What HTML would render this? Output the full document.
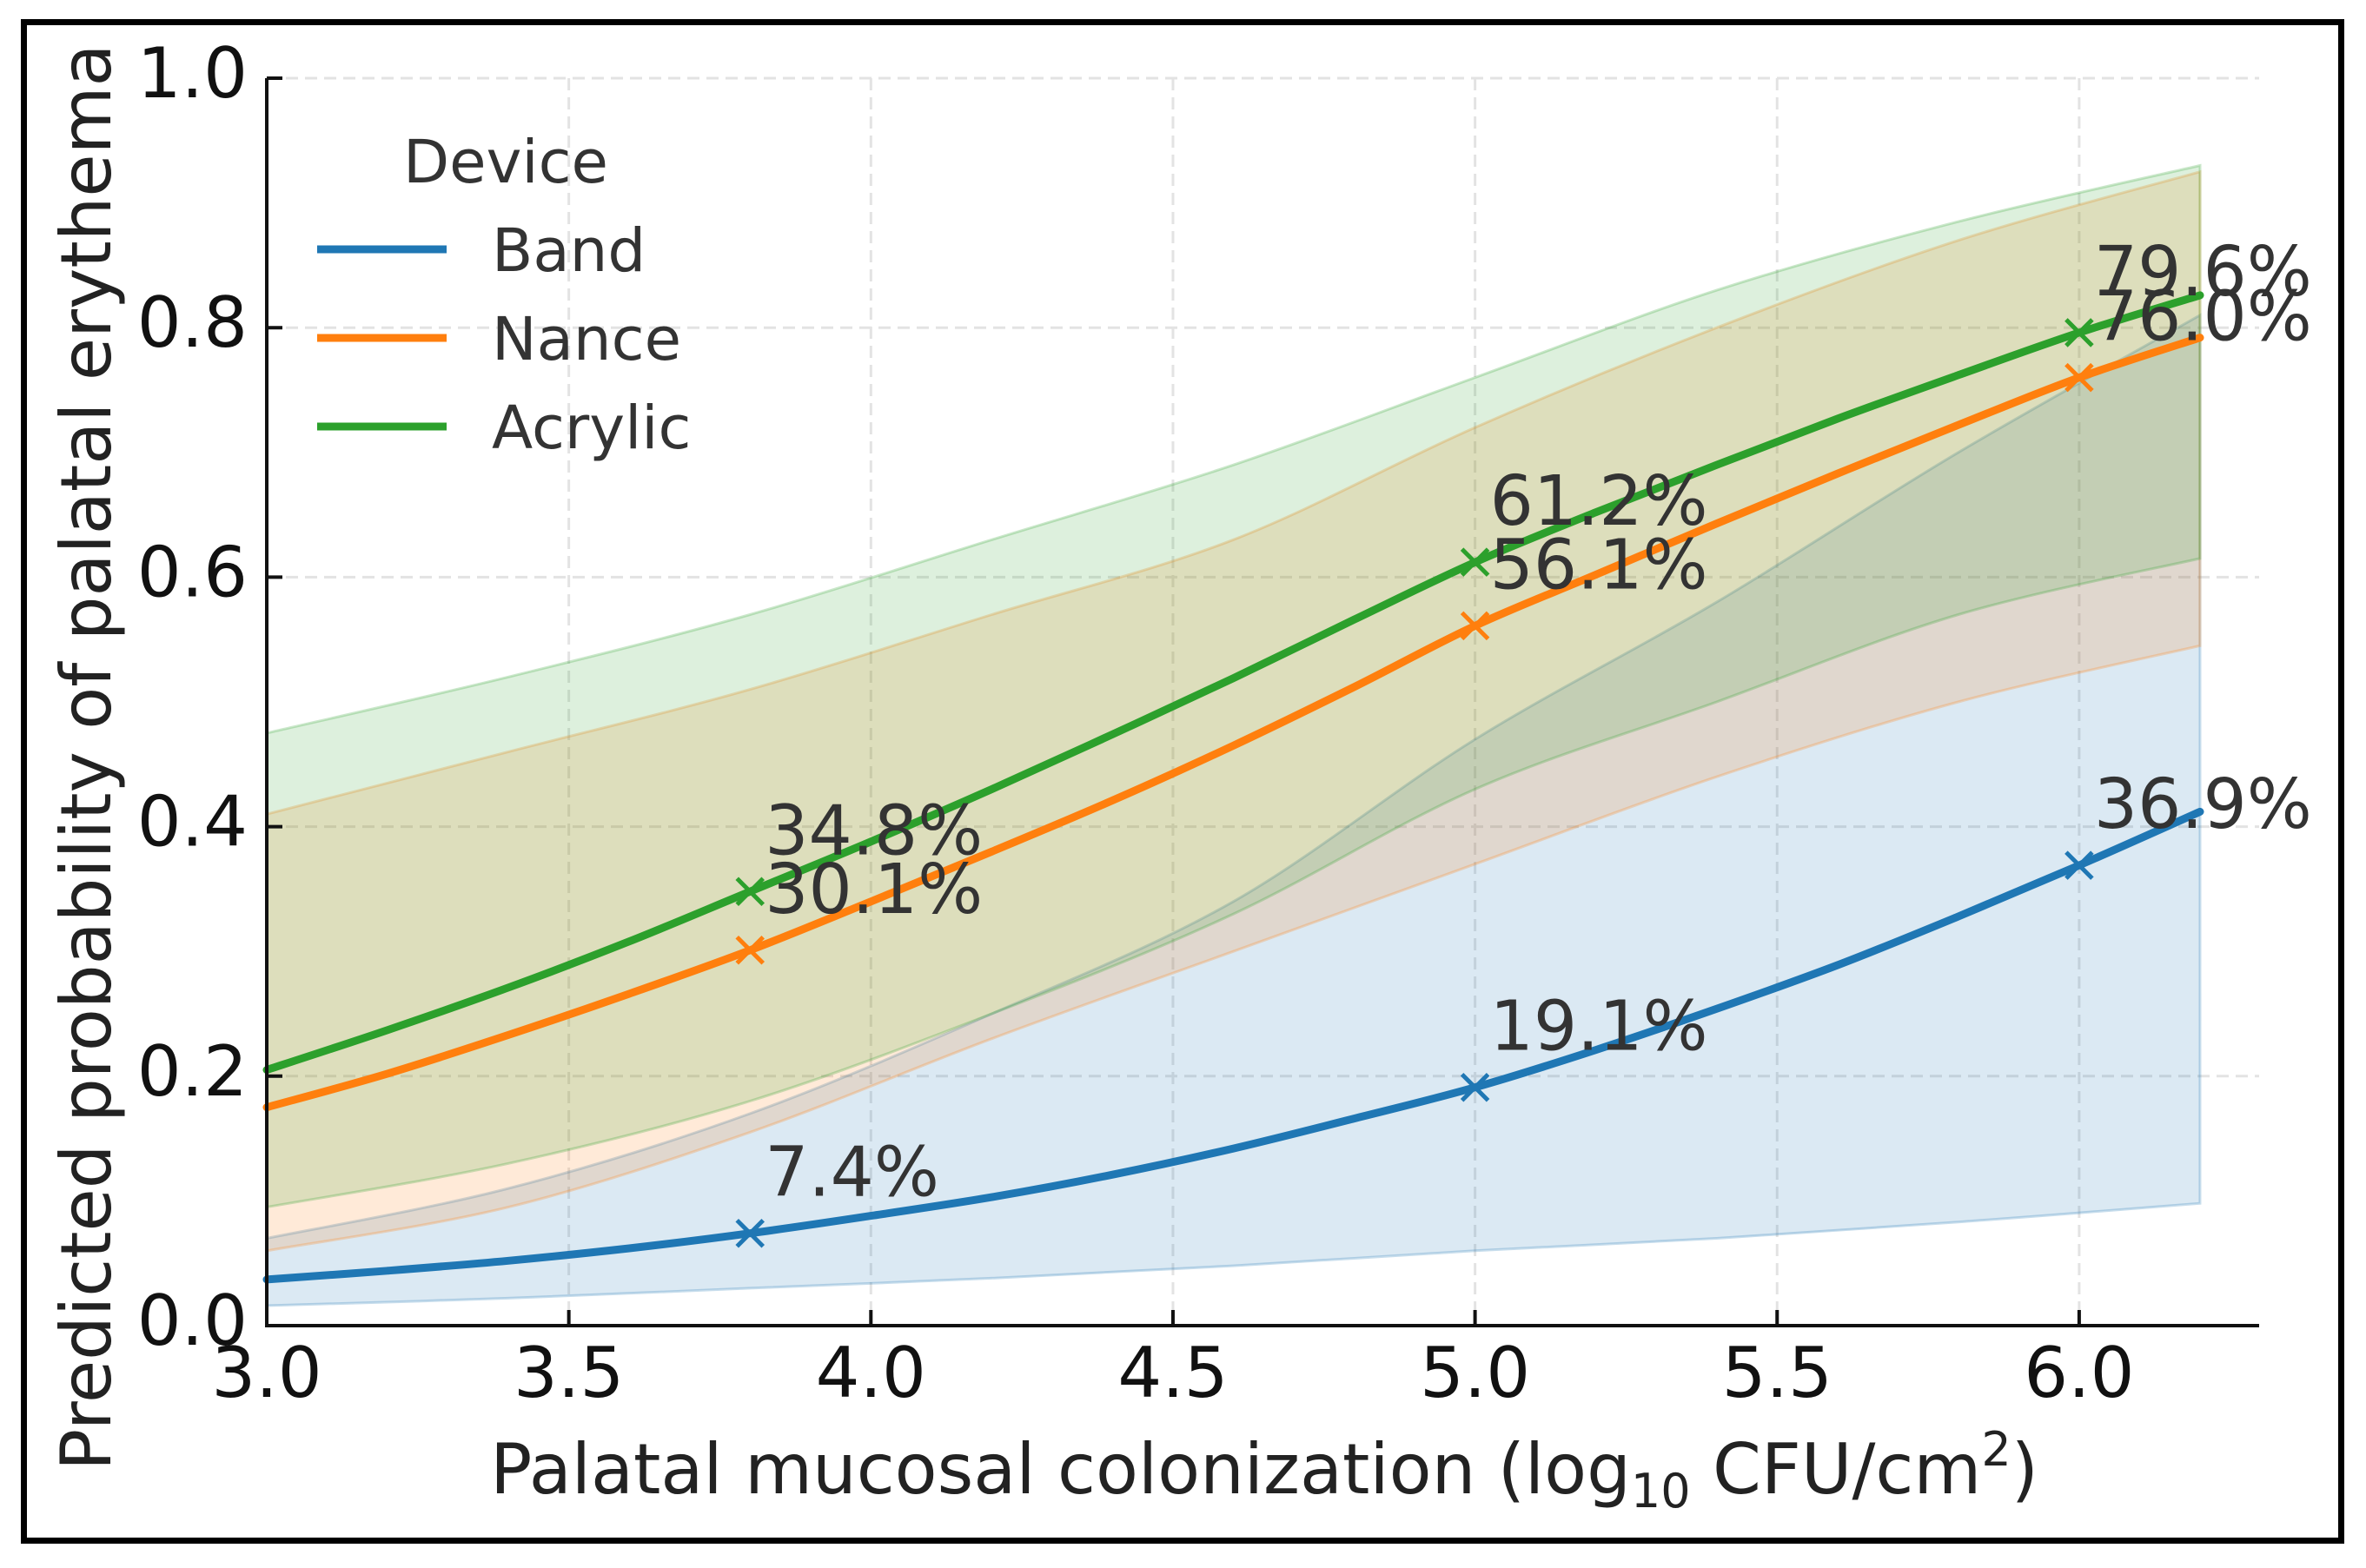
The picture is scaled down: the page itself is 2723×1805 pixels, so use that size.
<!DOCTYPE html>
<html><head><meta charset="utf-8"><style>
html,body{margin:0;padding:0;background:#fff;}
svg{display:block;font-family:"DejaVu Sans","Liberation Sans",sans-serif;}
</style></head><body>
<svg id="chart" width="2723" height="1805" viewBox="0 0 2723 1805">
<defs><clipPath id="frameclip"><rect x="30" y="30" width="2663" height="1741"/></clipPath></defs>
<rect x="0" y="0" width="2723" height="1805" fill="#fff"/>
<g id="grid"></g>
<g id="bands"></g>
<g id="lines"></g>
<g id="axes"></g>
<g id="annots"></g>
<text x="1455" y="1719" font-size="80" fill="#222" text-anchor="middle">Palatal mucosal colonization (log<tspan font-size="54" dy="16">10</tspan><tspan dy="-16"> CFU/cm</tspan><tspan font-size="54" dy="-32">2</tspan><tspan dy="32">)</tspan></text>
<g clip-path="url(#frameclip)">
<text transform="translate(127,1693) rotate(-90)" font-size="80" fill="#222">Predicted probability of palatal erythema at 3 months</text>
</g>
<g>
<text x="582" y="210" font-size="69" fill="#333" text-anchor="middle">Device</text>
<line x1="365" y1="287" x2="514" y2="287" stroke="#1f77b4" stroke-width="9"/>
<text x="566" y="312" font-size="69" fill="#333">Band</text>
<line x1="365" y1="389" x2="514" y2="389" stroke="#ff7f0e" stroke-width="9"/>
<text x="566" y="414" font-size="69" fill="#333">Nance</text>
<line x1="365" y1="491" x2="514" y2="491" stroke="#2ca02c" stroke-width="9"/>
<text x="566" y="516" font-size="69" fill="#333">Acrylic</text>
</g>
<rect x="27.5" y="25.5" width="2667" height="1748" fill="none" stroke="#000" stroke-width="7"/>
</svg>
<script>
const xGrid = [3.0,3.2,3.4,3.6,3.8,4.0,4.2,4.4,4.6,4.8,5.0,5.2,5.4,5.6,5.8,6.0,6.2];
const bandMean = [.037,.044,.052,.062,.074,.088,.103,.121,.142,.166,.191,.221,.254,.289,.328,.369,.412];
const nanceMean = [.175,.202,.233,.266,.301,.340,.380,.421,.465,.512,.561,.602,.643,.683,.722,.760,.792];
const acrylicMean = [.205,.237,.271,.308,.348,.388,.430,.474,.519,.566,.612,.652,.690,.727,.762,.796,.826];
const ciX = [3.0,3.4,3.8,4.2,4.6,5.0,5.4,5.8,6.2];
const bandLow = [.016,.022,.030,.038,.048,.060,.070,.083,.098];
const bandHigh = [.07,.11,.17,.25,.34,.47,.58,.70,.81];
const nanceLow = [.060,.095,.155,.23,.30,.37,.44,.50,.545];
const nanceHigh = [.41,.46,.51,.57,.63,.72,.80,.87,.925];
const acrylicLow = [.095,.13,.18,.25,.33,.43,.50,.57,.615];
const acrylicHigh = [.475,.52,.57,.63,.69,.76,.83,.885,.93];
const markerX = [3.8,5.0,6.0];
const bandMarks = [.074,.191,.369];
const nanceMarks = [.301,.561,.760];
const acrylicMarks = [.348,.612,.796];
const bandLabels = ["7.4%","19.1%","36.9%"];
const nanceLabels = ["30.1%","56.1%","76.0%"];
const acrylicLabels = ["34.8%","61.2%","79.6%"];
const xTicks = [3.0,3.5,4.0,4.5,5.0,5.5,6.0];
const xTickLabels = ["3.0","3.5","4.0","4.5","5.0","5.5","6.0"];
const yTicks = [0,0.2,0.4,0.6,0.8,1.0];
const yTickLabels = ["0.0","0.2","0.4","0.6","0.8","1.0"];

const NS="http://www.w3.org/2000/svg";
const X0=307, XS=695.3, Y0=1526, YS=1436, XEND=2600, YTOP=90;
const sx=v=>X0+(v-3)*XS, sy=v=>Y0-v*YS;
function mk(tag,attrs,parent){const e=document.createElementNS(NS,tag);for(const k in attrs)e.setAttribute(k,attrs[k]);parent.appendChild(e);return e;}
function smooth(pts){
  let d="M"+pts[0][0].toFixed(1)+","+pts[0][1].toFixed(1);
  for(let i=0;i<pts.length-1;i++){
    const p0=pts[i-1]||pts[i],p1=pts[i],p2=pts[i+1],p3=pts[i+2]||p2;
    const c1=[p1[0]+(p2[0]-p0[0])/6,p1[1]+(p2[1]-p0[1])/6];
    const c2=[p2[0]-(p3[0]-p1[0])/6,p2[1]-(p3[1]-p1[1])/6];
    d+=" C"+c1[0].toFixed(1)+","+c1[1].toFixed(1)+" "+c2[0].toFixed(1)+","+c2[1].toFixed(1)+" "+p2[0].toFixed(1)+","+p2[1].toFixed(1);
  }
  return d;
}
const grid=document.getElementById('grid');
xTicks.forEach(t=>{const l=mk('line',{x1:sx(t),x2:sx(t),y1:YTOP,y2:Y0,stroke:'#e3e3e3','stroke-width':3,'stroke-dasharray':'14,8'},grid);

});
yTicks.forEach(t=>{const l=mk('line',{x1:X0,x2:XEND,y1:sy(t),y2:sy(t),stroke:'#e3e3e3','stroke-width':3,'stroke-dasharray':'14,8'},grid);

});

const bands=document.getElementById('bands');
function band(low,high,color,name){
  const up=ciX.map((x,i)=>[sx(x),sy(high[i])]);
  const lo=ciX.map((x,i)=>[sx(x),sy(low[i])]).reverse();
  const d=smooth(up)+" L"+lo[0][0]+","+lo[0][1]+" "+smooth(lo).slice(1).replace(/^[^C]*/,'')+" Z";
  const p=mk('path',{d:d,fill:color,'fill-opacity':0.16,stroke:color,'stroke-opacity':0.25,'stroke-width':3},bands);
  
  
}
band(bandLow,bandHigh,'#1f77b4','band-ci');
band(nanceLow,nanceHigh,'#ff7f0e','nance-ci');
band(acrylicLow,acrylicHigh,'#2ca02c','acrylic-ci');

const lines=document.getElementById('lines');
const annots=document.getElementById('annots');
function series(vals,marks,labels,color,name){
  const pts=xGrid.map((x,i)=>[sx(x),sy(vals[i])]);
  const p=mk('path',{d:smooth(pts),fill:'none',stroke:color,'stroke-width':9,'stroke-linecap':'round'},lines);
  
  
  markerX.forEach((x,i)=>{
    const cx=sx(x),cy=sy(marks[i]),r=15;
    const m=mk('path',{d:`M${cx-r},${cy-r}L${cx+r},${cy+r}M${cx-r},${cy+r}L${cx+r},${cy-r}`,stroke:color,'stroke-width':5,fill:'none'},lines);
    
    
    const t=mk('text',{x:cx+17,y:cy-43,'font-size':79,fill:'#333'},annots);
    t.textContent=labels[i];
    
    
  });
}
series(bandMean,bandMarks,bandLabels,'#1f77b4','band');
series(nanceMean,nanceMarks,nanceLabels,'#ff7f0e','nance');
series(acrylicMean,acrylicMarks,acrylicLabels,'#2ca02c','acrylic');

const axes=document.getElementById('axes');
let a=mk('line',{x1:X0,x2:X0,y1:YTOP,y2:Y0+2,stroke:'#111','stroke-width':4},axes);


a=mk('line',{x1:X0-2,x2:XEND,y1:Y0,y2:Y0,stroke:'#111','stroke-width':4},axes);


xTicks.forEach((t,i)=>{
  const l=mk('line',{x1:sx(t),x2:sx(t),y1:Y0,y2:Y0-18,stroke:'#111','stroke-width':4},axes);
  
  
  const tx=mk('text',{x:sx(t),y:1608,'font-size':80,fill:'#111','text-anchor':'middle'},axes);
  tx.textContent=xTickLabels[i];
  
  
});
yTicks.forEach((t,i)=>{
  const l=mk('line',{x1:X0,x2:X0+18,y1:sy(t),y2:sy(t),stroke:'#111','stroke-width':4},axes);
  
  
  const tx=mk('text',{x:285,y:sy(t)+22,'font-size':80,fill:'#111','text-anchor':'end'},axes);
  tx.textContent=yTickLabels[i];
  
  
});
</script>
</body></html>
